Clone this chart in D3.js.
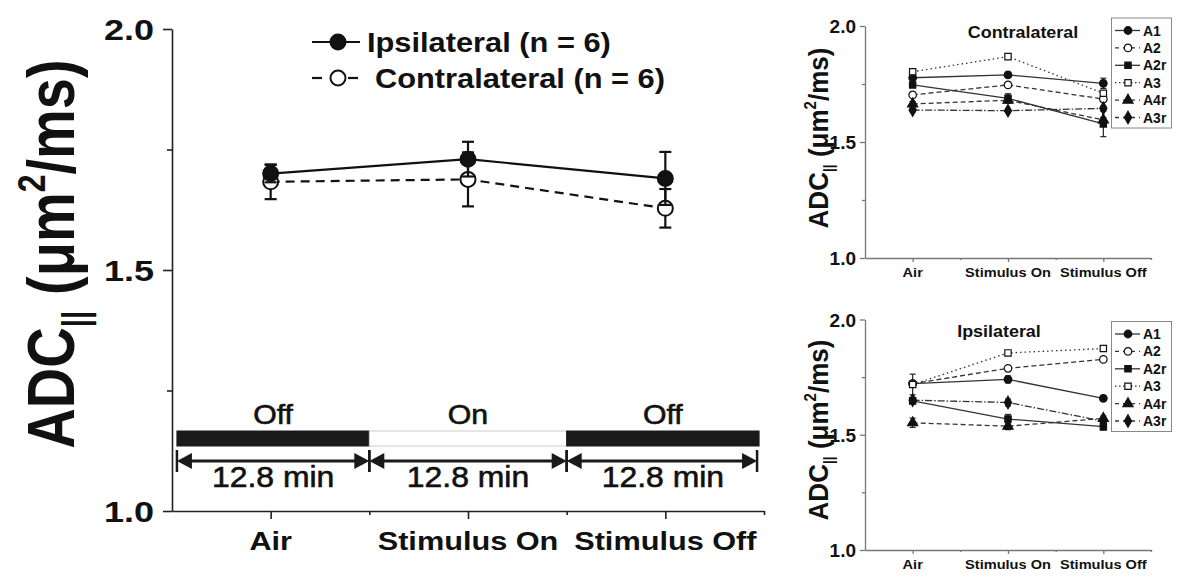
<!DOCTYPE html>
<html>
<head>
<meta charset="utf-8">
<script src="https://cdn.jsdelivr.net/npm/d3@7/dist/d3.min.js"></script>
<style>
    body { margin: 0; background: #fff; }
    svg text { font-family: "Liberation Sans", Arial, sans-serif; fill: #111; }
</style>
</head>
<body>
<svg id="chart" width="1181" height="576"></svg>
<script>
// ---- data ----
var categories = ["Air", "Stimulus On", "Stimulus Off"];
var yTicks = [1.0, 1.5, 2.0];
var yMinorTicks = [1.25, 1.75];

var ipsiMean = [1.700, 1.730, 1.690];
var ipsiErr = [0.018, 0.036, 0.055];
var contraMean = [1.683, 1.688, 1.628];
var contraErr = [0.036, 0.056, 0.040];

var phaseLabels = ["Off", "On", "Off"];
var phaseDurations = ["12.8 min", "12.8 min", "12.8 min"];
var phaseStart = [0.525, 1.5, 2.5];
var phaseEnd = [1.5, 2.5, 3.475];

var animals = ["A1", "A2", "A2r", "A3", "A4r", "A3r"];

// contralateral, per animal
var contraA1 = [1.777, 1.789, 1.753];
var contraA2 = [1.703, 1.746, 1.685];
var contraA2r = [1.746, 1.688, 1.578];
var contraA3 = [1.803, 1.868, 1.710];
var contraA4r = [1.664, 1.680, 1.595];
var contraA3r = [1.638, 1.635, 1.645];
var contraErrA1 = [0.010, 0.010, 0.022];
var contraErrA2 = [0.008, 0.010, 0.010];
var contraErrA2r = [0.010, 0.020, 0.055];
var contraErrA3 = [0.010, 0.008, 0.010];
var contraErrA4r = [0.010, 0.012, 0.010];
var contraErrA3r = [0.008, 0.008, 0.010];

// ipsilateral, per animal
var ipsiA1 = [1.722, 1.740, 1.658];
var ipsiA2 = [1.722, 1.788, 1.827];
var ipsiA2r = [1.647, 1.568, 1.535];
var ipsiA3 = [1.718, 1.855, 1.874];
var ipsiA4r = [1.552, 1.537, 1.571];
var ipsiA3r = [1.650, 1.640, 1.559];
var ipsiErrA1 = [0.010, 0.015, 0.010];
var ipsiErrA2 = [0.010, 0.008, 0.008];
var ipsiErrA2r = [0.010, 0.020, 0.015];
var ipsiErrA3 = [0.045, 0.008, 0.008];
var ipsiErrA4r = [0.020, 0.015, 0.010];
var ipsiErrA3r = [0.010, 0.015, 0.010];

// ---- styles per animal (dash + marker) ----
var animalDash = ["none", "5,3", "none", "1.5,3", "5,3", "7,2,1.5,2"];
var animalSymbol = [d3.symbolCircle, d3.symbolCircle, d3.symbolSquare, d3.symbolSquare, d3.symbolTriangle, d3.symbolDiamond];
var animalFilled = [true, false, true, false, true, true];

var svg = d3.select("#chart");

function stretchedText(parent, x, y, txt, sx, anchor, size, weight) {
    return parent.append("text")
        .attr("transform", "translate(" + [x, y] + ") scale(" + sx + ",1)")
        .attr("text-anchor", anchor || "middle")
        .style("font-size", size + "px")
        .style("font-weight", weight || "bold")
        .text(txt);
}

// ================= main chart =================
var xMain = d3.scaleLinear().domain([0.5, 3.5]).range([172, 764]);
var yMain = d3.scaleLinear().domain([1, 2]).range([511, 29]);
var main = svg.append("g").attr("id", "main");

// axes
main.append("g")
    .attr("transform", "translate(0," + yMain(1) + ")")
    .call(d3.axisBottom(xMain).tickValues([1, 2, 3]).tickSize(8).tickSizeOuter(0).tickFormat(""));
main.append("g")
    .attr("transform", "translate(0," + yMain(1) + ")")
    .call(d3.axisBottom(xMain).tickValues([1.5, 2.5, 3.5]).tickSize(4).tickSizeOuter(0).tickFormat(""))
    .select(".domain").remove();
main.append("g")
    .attr("transform", "translate(" + xMain(0.5) + ",0)")
    .call(d3.axisLeft(yMain).tickValues(yTicks).tickSize(9).tickSizeOuter(0).tickFormat(""));
main.append("g")
    .attr("transform", "translate(" + xMain(0.5) + ",0)")
    .call(d3.axisLeft(yMain).tickValues(yMinorTicks).tickSize(5).tickSizeOuter(0).tickFormat(""))
    .select(".domain").remove();
main.selectAll(".domain, .tick line").attr("stroke", "#222").attr("stroke-width", 1.6);

yTicks.forEach(function (t) {
    stretchedText(main, 154, yMain(t) + 11, d3.format(".1f")(t), 1.2, "end", 30);
});
categories.forEach(function (c, i) {
    stretchedText(main, xMain(i + 1), 550, c, 1.18, "middle", 26);
});

// y title
var yTitle = main.append("text")
    .attr("transform", "translate(74,254) scale(1.2,1) rotate(-90)")
    .attr("text-anchor", "middle")
    .style("font-size", "56px")
    .style("font-weight", "bold");
yTitle.append("tspan").text("ADC");
yTitle.append("tspan").attr("dy", 12).style("font-size", "30px").text("||");
yTitle.append("tspan").attr("dy", -12).text(" (\u03bcm");
yTitle.append("tspan").attr("dy", -24).style("font-size", "32px").text("2");
yTitle.append("tspan").attr("dy", 24).text("/ms)");

// stimulus timeline
var barTop = 431, barH = 15, arrowY = 461;
phaseLabels.forEach(function (p, i) {
    var x0 = xMain(phaseStart[i]), x1 = xMain(phaseEnd[i]);
    main.append("rect")
        .attr("x", x0).attr("y", barTop)
        .attr("width", x1 - x0).attr("height", barH)
        .attr("fill", p === "On" ? "#fff" : "#1a1a1a")
        .attr("stroke", p === "On" ? "#ccc" : "#1a1a1a")
        .attr("stroke-width", 1);
    stretchedText(main, (x0 + x1) / 2, 424, p, 1.12, "middle", 27, "normal")
        .style("stroke", "#111").style("stroke-width", 0.6);

    var a0 = x0, a1 = x1 - (i === 2 ? 2 : 0);
    var hl = 15, hw = 8;
    main.append("line")
        .attr("x1", a0 + 4).attr("x2", a1 - 4)
        .attr("y1", arrowY).attr("y2", arrowY)
        .attr("stroke", "#1a1a1a").attr("stroke-width", 3);
    main.append("path")
        .attr("d", "M" + a0 + "," + arrowY + "L" + (a0 + hl) + "," + (arrowY - hw) + "L" + (a0 + hl) + "," + (arrowY + hw) + "Z")
        .attr("fill", "#1a1a1a");
    main.append("path")
        .attr("d", "M" + a1 + "," + arrowY + "L" + (a1 - hl) + "," + (arrowY - hw) + "L" + (a1 - hl) + "," + (arrowY + hw) + "Z")
        .attr("fill", "#1a1a1a");
    [a0, a1].forEach(function (ax) {
        main.append("line")
            .attr("x1", ax).attr("x2", ax)
            .attr("y1", arrowY - 11).attr("y2", arrowY + 11)
            .attr("stroke", "#1a1a1a").attr("stroke-width", 2.5);
    });
    stretchedText(main, (x0 + x1) / 2, 487, phaseDurations[i], 1.1, "middle", 29, "normal")
        .style("stroke", "#111").style("stroke-width", 0.6);
});

// series
var mainSeries = [
    {name: "Ipsilateral (n = 6)", mean: ipsiMean, err: ipsiErr, dash: "none", fill: "#111"},
    {name: "Contralateral (n = 6)", mean: contraMean, err: contraErr, dash: "9,6", fill: "#fff"}
];
var mainLine = d3.line()
    .x(function (d, i) { return xMain(i + 1); })
    .y(function (d) { return yMain(d); });

mainSeries.slice().reverse().forEach(function (s) {
    main.append("path")
        .datum(s.mean)
        .attr("d", mainLine)
        .attr("fill", "none")
        .attr("stroke", "#111")
        .attr("stroke-width", 2.2)
        .attr("stroke-dasharray", s.dash);
});
mainSeries.slice().reverse().forEach(function (s) {
    var g = main.append("g");
    s.mean.forEach(function (m, i) {
        var cx = xMain(i + 1);
        g.append("line")
            .attr("x1", cx).attr("x2", cx)
            .attr("y1", yMain(m - s.err[i])).attr("y2", yMain(m + s.err[i]))
            .attr("stroke", "#111").attr("stroke-width", 2.2);
        [m - s.err[i], m + s.err[i]].forEach(function (v) {
            g.append("line")
                .attr("x1", cx - 6).attr("x2", cx + 6)
                .attr("y1", yMain(v)).attr("y2", yMain(v))
                .attr("stroke", "#111").attr("stroke-width", 2.2);
        });
    });
    g.selectAll("circle")
        .data(s.mean)
        .enter().append("circle")
        .attr("cx", function (d, i) { return xMain(i + 1); })
        .attr("cy", function (d) { return yMain(d); })
        .attr("r", 7.5)
        .attr("fill", s.fill)
        .attr("stroke", "#111")
        .attr("stroke-width", 2);
});

// main legend
var legMain = main.append("g");
mainSeries.forEach(function (s, i) {
    var ly = 42 + i * 36;
    if (s.dash === "none") {
        legMain.append("line").attr("x1", 312).attr("x2", 360).attr("y1", ly).attr("y2", ly)
            .attr("stroke", "#111").attr("stroke-width", 2.2);
    } else {
        [[312, 322], [348, 358]].forEach(function (seg) {
            legMain.append("line").attr("x1", seg[0]).attr("x2", seg[1]).attr("y1", ly).attr("y2", ly)
                .attr("stroke", "#111").attr("stroke-width", 2.2);
        });
    }
    legMain.append("circle").attr("cx", 338).attr("cy", ly).attr("r", 7.5)
        .attr("fill", s.fill).attr("stroke", "#111").attr("stroke-width", 2);
    stretchedText(legMain, i === 0 ? 367 : 375, ly + 10, s.name, 1.1, "start", 28);
});

// ================= small charts =================
function smallChart(cfg) {
    var x = d3.scaleLinear().domain([0.5, 3.5]).range([865, 1151]);
    var y = d3.scaleLinear().domain([1, 2]).range([cfg.bottom, cfg.top]);
    var g = svg.append("g");

    g.append("g").attr("transform", "translate(0," + y(1) + ")")
        .call(d3.axisBottom(x).tickValues([1, 2, 3]).tickSize(4).tickSizeOuter(0).tickFormat(""));
    g.append("g").attr("transform", "translate(0," + y(1) + ")")
        .call(d3.axisBottom(x).tickValues([1.5, 2.5, 3.5]).tickSize(2).tickSizeOuter(0).tickFormat(""))
        .select(".domain").remove();
    g.append("g").attr("transform", "translate(" + x(0.5) + ",0)")
        .call(d3.axisLeft(y).tickValues(yTicks).tickSize(5).tickSizeOuter(0).tickFormat(""));
    g.append("g").attr("transform", "translate(" + x(0.5) + ",0)")
        .call(d3.axisLeft(y).tickValues(yMinorTicks).tickSize(3).tickSizeOuter(0).tickFormat(""))
        .select(".domain").remove();
    g.selectAll(".domain, .tick line").attr("stroke", "#777").attr("stroke-width", 1.3);

    yTicks.forEach(function (t) {
        stretchedText(g, 856, y(t) + 7, d3.format(".1f")(t), 1.0, "end", 19);
    });
    categories.forEach(function (c, i) {
        stretchedText(g, x(i + 1), cfg.bottom + 19, c, 1.08, "middle", 13.5);
    });

    var yt = g.append("text")
        .attr("transform", "translate(828," + cfg.titleMid + ") scale(1.08,1) rotate(-90)")
        .attr("text-anchor", "middle")
        .style("font-size", "26px")
        .style("font-weight", "bold");
    yt.append("tspan").text("ADC");
    yt.append("tspan").attr("dy", 6).style("font-size", "14px").text("||");
    yt.append("tspan").attr("dy", -6).text(" (\u03bcm");
    yt.append("tspan").attr("dy", -11).style("font-size", "15px").text("2");
    yt.append("tspan").attr("dy", 11).text("/ms)");

    stretchedText(g, cfg.labelX, cfg.labelY, cfg.label, 1.12, "middle", 16);

    var line = d3.line()
        .x(function (d, i) { return x(i + 1); })
        .y(function (d) { return y(d); });

    cfg.values.forEach(function (vals, k) {
        g.append("path").datum(vals).attr("d", line)
            .attr("fill", "none").attr("stroke", "#333").attr("stroke-width", 1.3)
            .attr("stroke-dasharray", animalDash[k]);
    });
    cfg.values.forEach(function (vals, k) {
        var errs = cfg.errors[k];
        vals.forEach(function (v, i) {
            var cx = x(i + 1);
            g.append("line").attr("x1", cx).attr("x2", cx)
                .attr("y1", y(v - errs[i])).attr("y2", y(v + errs[i]))
                .attr("stroke", "#222").attr("stroke-width", 1.2);
            [v - errs[i], v + errs[i]].forEach(function (e) {
                g.append("line").attr("x1", cx - 3).attr("x2", cx + 3)
                    .attr("y1", y(e)).attr("y2", y(e))
                    .attr("stroke", "#222").attr("stroke-width", 1.2);
            });
        });
        g.selectAll(".m" + k).data(vals).enter().append("path")
            .attr("class", "m" + k)
            .attr("transform", function (d, i) { return "translate(" + [x(i + 1), y(d)] + ")"; })
            .attr("d", d3.symbol().type(animalSymbol[k]).size(animalSymbol[k] === d3.symbolSquare ? 40 : 45))
            .attr("fill", animalFilled[k] ? "#111" : "#fff")
            .attr("stroke", "#111").attr("stroke-width", 1.2);
    });

    // legend
    var lg = g.append("g");
    lg.append("rect").attr("x", 1111.5).attr("y", cfg.legTop)
        .attr("width", 60).attr("height", 110)
        .attr("fill", "#fff").attr("stroke", "#888").attr("stroke-width", 1);
    animals.forEach(function (a, k) {
        var ly = cfg.legTop + 12.5 + k * 17.4;
        lg.append("line").attr("x1", 1115).attr("x2", 1140).attr("y1", ly).attr("y2", ly)
            .attr("stroke", "#333").attr("stroke-width", 1.3)
            .attr("stroke-dasharray", animalDash[k] === "none" ? "none" : (k === 3 ? "1.5,2.5" : "4,4"));
        lg.append("path")
            .attr("transform", "translate(" + [1128, ly] + ")")
            .attr("d", d3.symbol().type(animalSymbol[k]).size(animalSymbol[k] === d3.symbolSquare ? 40 : 45))
            .attr("fill", animalFilled[k] ? "#111" : "#fff")
            .attr("stroke", "#111").attr("stroke-width", 1.2);
        stretchedText(lg, 1143, ly + 5, a, 1.0, "start", 14);
    });
}

smallChart({
    top: 26, bottom: 258, titleMid: 138,
    label: "Contralateral", labelX: 1023, labelY: 38, legTop: 18,
    values: [contraA1, contraA2, contraA2r, contraA3, contraA4r, contraA3r],
    errors: [contraErrA1, contraErrA2, contraErrA2r, contraErrA3, contraErrA4r, contraErrA3r]
});
smallChart({
    top: 319.5, bottom: 550, titleMid: 430,
    label: "Ipsilateral", labelX: 999, labelY: 337, legTop: 321.5,
    values: [ipsiA1, ipsiA2, ipsiA2r, ipsiA3, ipsiA4r, ipsiA3r],
    errors: [ipsiErrA1, ipsiErrA2, ipsiErrA2r, ipsiErrA3, ipsiErrA4r, ipsiErrA3r]
});
</script>
</body>
</html>
